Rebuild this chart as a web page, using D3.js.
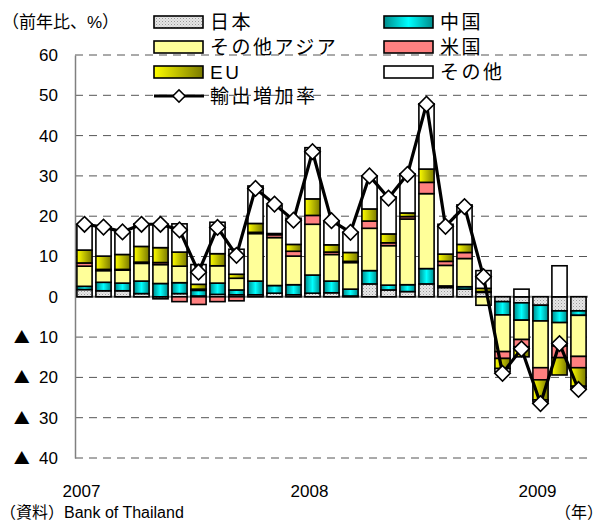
<!DOCTYPE html>
<html>
<head>
<meta charset="utf-8">
<script src="https://cdn.jsdelivr.net/npm/d3@7.9.0/dist/d3.min.js"></script>
<style>
  body { margin: 0; background: #fff; }
  svg { display: block; font-family: "Liberation Sans", "Noto Sans CJK JP", sans-serif; }
</style>
</head>
<body>
<svg id="chart" width="603" height="520"></svg>
<script>
// Monthly categories (Jan 2007 - Mar 2009)
const months = [
  '2007-01', '2007-02', '2007-03', '2007-04', '2007-05', '2007-06', '2007-07', '2007-08', '2007-09',
  '2007-10', '2007-11', '2007-12', '2008-01', '2008-02', '2008-03', '2008-04', '2008-05', '2008-06',
  '2008-07', '2008-08', '2008-09', '2008-10', '2008-11', '2008-12', '2009-01', '2009-02', '2009-03'
];

// Contributions by destination (% points)
const japan = [1.8, 1.5, 1.5, 0.8, -0.5, 0.8, 0.2, 0.6, 0.5, 0.5, 0.9, 0.5, 0.9, 1.0, 0.2, 3.2, 1.7, 1.3, 3.2, 2.3, 1.9, 1.1, -1.2, -1.5, -2.1, -3.5, -3.5];
const china = [0.8, 2.1, 1.9, 3.1, 3.3, 2.7, 1.4, 2.8, 1.2, 3.4, 1.9, 2.5, 4.5, 2.9, 1.7, 3.3, 1.2, 1.7, 3.8, 0.4, 0.6, 0.2, -3.3, -4.3, -3.9, -2.9, -1.1];
const otherAsia = [5.0, 2.9, 3.2, 4.4, 4.7, 4.1, 0.3, 4.3, 2.9, 11.8, 11.9, 7.1, 12.6, 6.6, 6.6, 10.5, 9.8, 16.3, 18.6, 5.1, 7.0, -2.1, -9.1, -4.8, -11.6, -5.8, -10.2];
const us = [0.8, 0.3, 0.2, 0.3, 0.5, -1.2, -1.9, -1.2, -1.0, 0.3, 0.7, 1.2, 2.2, 0.6, 0.3, 1.8, 0.7, 0.6, 2.8, 1.0, 1.5, 0, -1.7, -1.8, -3.0, -2.9, -2.8];
const eu = [3.2, 3.3, 3.7, 3.9, 3.7, 3.5, 1.2, 3.0, 1.0, 2.2, 0.3, 1.7, 4.1, 1.8, 2.2, 3.0, 2.2, 0.9, 3.3, 1.8, 2.0, 0.8, -2.5, -2.5, -5.0, -4.3, -4.6];
const others = [6.4, 7.2, 5.5, 5.6, 5.8, 7.0, 4.9, 7.8, 6.2, 9.3, 6.9, 6.5, 12.7, 5.8, 5.0, 8.2, 9.2, 9.7, 16.2, 7.4, 9.8, 4.4, -0.8, 1.9, -0.5, 7.7, -0.5];

// Export growth rate (% y/y)
const exportGrowth = [18.0, 17.3, 16.1, 18.0, 18.0, 16.6, 6.1, 17.2, 10.3, 26.9, 23.0, 19.0, 36.0, 18.9, 16.0, 30.0, 24.5, 30.4, 47.8, 17.5, 22.4, 5.0, -19.0, -12.9, -26.5, -11.6, -23.0];

const seriesKeys = ['japan', 'china', 'otherAsia', 'us', 'eu', 'others'];
const seriesLabels = ['日本', '中国', 'その他アジア', '米国', 'EU', 'その他'];
const yTicks = [60, 50, 40, 30, 20, 10, 0, -10, -20, -30, -40];
const yearTicks = ['2007-01', '2008-01', '2009-01'];

const table = months.map((m, i) => ({
  month: m,
  japan: japan[i],
  china: china[i],
  otherAsia: otherAsia[i],
  us: us[i],
  eu: eu[i],
  others: others[i]
}));

const svg = d3.select('#chart');
const plotLeft = 75, plotRight = 588, plotTop = 55, plotBottom = 458;

const x = d3.scaleBand().domain(months).range([plotLeft, plotRight]).paddingInner(0.2).paddingOuter(0.1);
const y = d3.scaleLinear().domain([-40, 60]).range([plotBottom, plotTop]);

// Fills: patterns and gradients
const defs = svg.append('defs');
const pat = defs.append('pattern').attr('id', 'pat-japan')
  .attr('width', 3).attr('height', 3).attr('patternUnits', 'userSpaceOnUse');
pat.append('rect').attr('width', 3).attr('height', 3).attr('fill', '#e6e6e6');
pat.append('rect').attr('width', 1).attr('height', 1).attr('fill', '#9a9a9a');
pat.append('rect').attr('x', 1.5).attr('y', 1.5).attr('width', 1).attr('height', 1).attr('fill', '#bdbdbd');

const gChina = defs.append('linearGradient').attr('id', 'grad-china').attr('x1', 0).attr('x2', 1).attr('y1', 0).attr('y2', 0);
gChina.append('stop').attr('offset', '0%').attr('stop-color', '#008b8b');
gChina.append('stop').attr('offset', '50%').attr('stop-color', '#00ffff');
gChina.append('stop').attr('offset', '100%').attr('stop-color', '#008b8b');

const gEu = defs.append('linearGradient').attr('id', 'grad-eu').attr('x1', 0).attr('x2', 1).attr('y1', 0).attr('y2', 0);
gEu.append('stop').attr('offset', '0%').attr('stop-color', '#ffff00');
gEu.append('stop').attr('offset', '100%').attr('stop-color', '#7a7a00');

const fills = {
  japan: 'url(#pat-japan)',
  china: 'url(#grad-china)',
  otherAsia: '#ffff99',
  us: '#ff8080',
  eu: 'url(#grad-eu)',
  others: '#ffffff'
};

// Gridlines
svg.append('g')
  .selectAll('line')
  .data(yTicks.filter((t) => t !== 0))
  .join('line')
  .attr('x1', plotLeft).attr('x2', plotRight)
  .attr('y1', (d) => y(d)).attr('y2', (d) => y(d))
  .attr('stroke', '#555')
  .attr('stroke-width', 1)
  .attr('stroke-dasharray', '8,6');

// Zero line
svg.append('line')
  .attr('x1', plotLeft).attr('x2', plotRight)
  .attr('y1', y(0)).attr('y2', y(0))
  .attr('stroke', '#888').attr('stroke-width', 2);

// Y axis (negatives shown with a ▲ mark)
const yAxis = svg.append('g')
  .attr('transform', `translate(${plotLeft},0)`)
  .call(d3.axisLeft(y).tickValues(yTicks).tickSize(0).tickPadding(17)
    .tickFormat((v) => (v < 0 ? -v : v)));
yAxis.select('.domain').attr('stroke', '#808080').attr('stroke-width', 1.5);
yAxis.selectAll('text').attr('font-size', 17).attr('fill', '#000')
  .attr('font-family', '"Liberation Sans", "Noto Sans CJK JP", sans-serif');
yAxis.selectAll('.tick')
  .filter((v) => v < 0)
  .select('text')
  .each(function (v) {
    const t = d3.select(this).text('');
    t.append('tspan').attr('font-family', '"Noto Sans CJK JP"').attr('font-size', 16).text('▲');
    t.append('tspan').text('\u00a0\u00a0' + (-v));
  });

// X axis labels
const xAxis = svg.append('g')
  .attr('transform', `translate(-3,${plotBottom + 27})`)
  .call(d3.axisBottom(x).tickValues(yearTicks).tickSize(0).tickPadding(0)
    .tickFormat((m) => m.slice(0, 4)));
xAxis.select('.domain').remove();
xAxis.selectAll('text').attr('font-size', 17).attr('fill', '#000')
  .attr('font-family', '"Liberation Sans", "Noto Sans CJK JP", sans-serif');

// Stacked bars
const stacked = d3.stack().keys(seriesKeys).offset(d3.stackOffsetDiverging)(table);

svg.append('g')
  .selectAll('g')
  .data(stacked)
  .join('g')
  .attr('fill', (s) => fills[s.key])
  .selectAll('rect')
  .data((s) => s.filter((d) => d[1] !== d[0]))
  .join('rect')
  .attr('x', (d) => x(d.data.month))
  .attr('width', x.bandwidth())
  .attr('y', (d) => y(Math.max(d[0], d[1])))
  .attr('height', (d) => Math.abs(y(d[0]) - y(d[1])))
  .attr('stroke', '#000')
  .attr('stroke-width', 1.6);

// Export growth line
const cx = (m) => x(m) + x.bandwidth() / 2;
svg.append('path')
  .datum(months)
  .attr('fill', 'none')
  .attr('stroke', '#000')
  .attr('stroke-width', 3.2)
  .attr('stroke-linejoin', 'round')
  .attr('d', d3.line().x((m) => cx(m)).y((m, i) => y(exportGrowth[i])));

const diamond = d3.symbol(d3.symbolSquare, 120);
svg.append('g')
  .selectAll('path')
  .data(months)
  .join('path')
  .attr('d', diamond)
  .attr('transform', (m, i) => `translate(${cx(m)},${y(exportGrowth[i])}) rotate(45)`)
  .attr('fill', '#fff')
  .attr('stroke', '#000')
  .attr('stroke-width', 1.6);

// Legend
const legendCols = [154, 384];
const legendRows = [22, 47, 72];
const legend = svg.append('g').attr('font-size', 19).attr('letter-spacing', 2.5);
seriesKeys.forEach((k, i) => {
  const lx = legendCols[i % 2];
  const ly = legendRows[Math.floor(i / 2)];
  legend.append('rect')
    .attr('x', lx).attr('y', ly - 6)
    .attr('width', 49).attr('height', 12)
    .attr('fill', fills[k])
    .attr('stroke', '#000').attr('stroke-width', 1.6);
  legend.append('text')
    .attr('x', lx + 56).attr('y', ly)
    .attr('dy', '0.35em')
    .text(seriesLabels[i]);
});
const lineLegendY = 96;
legend.append('line')
  .attr('x1', 154).attr('x2', 204)
  .attr('y1', lineLegendY).attr('y2', lineLegendY)
  .attr('stroke', '#000').attr('stroke-width', 3);
legend.append('path')
  .attr('d', d3.symbol(d3.symbolSquare, 75))
  .attr('transform', `translate(179,${lineLegendY}) rotate(45)`)
  .attr('fill', '#fff').attr('stroke', '#000').attr('stroke-width', 1.5);
legend.append('text')
  .attr('x', 210).attr('y', lineLegendY)
  .attr('dy', '0.35em')
  .text('輸出増加率');

// Annotations
svg.append('text')
  .attr('x', 2).attr('y', 22).attr('dy', '0.35em')
  .attr('font-size', 17)
  .text('（前年比、%）');
svg.append('text')
  .attr('x', 0).attr('y', 512).attr('dy', '0.35em')
  .attr('font-size', 16)
  .text('（資料）Bank of Thailand');
svg.append('text')
  .attr('x', 603).attr('y', 512).attr('dy', '0.35em')
  .attr('text-anchor', 'end')
  .attr('font-size', 16)
  .text('（年）');
</script>
</body>
</html>
